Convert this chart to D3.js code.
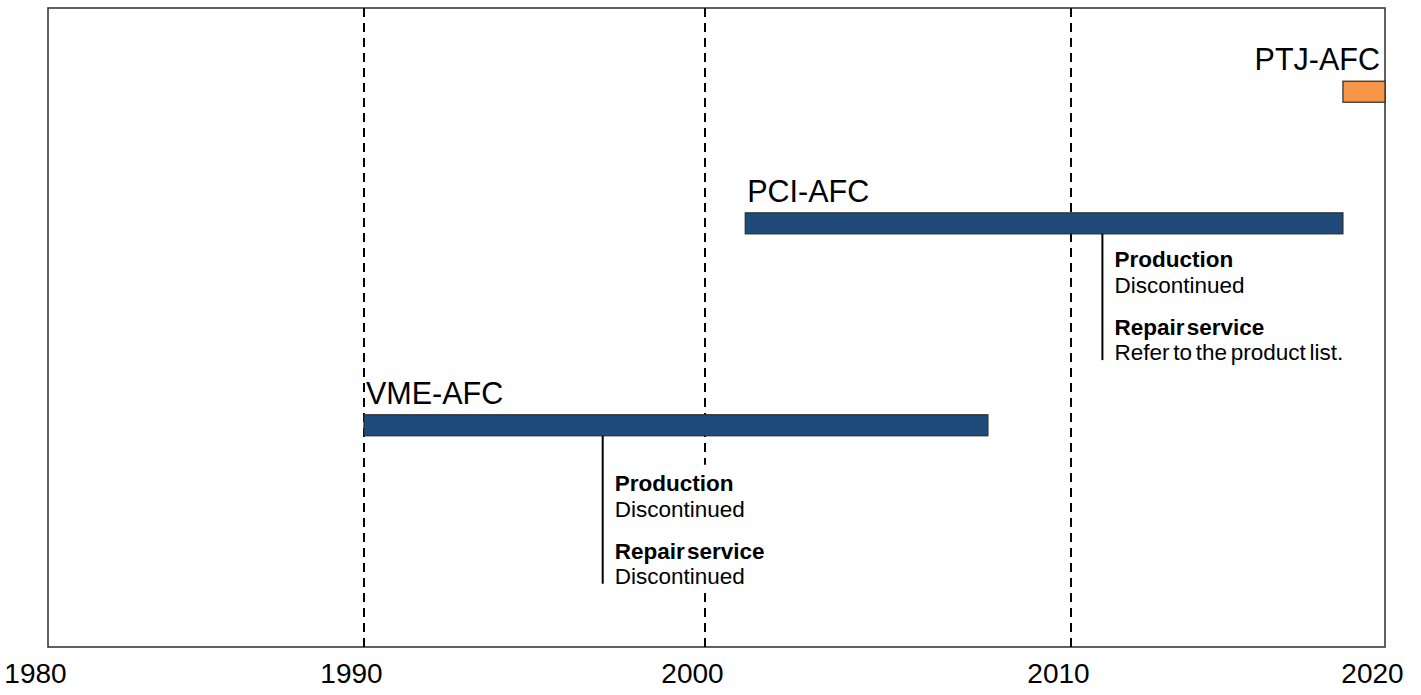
<!DOCTYPE html>
<html>
<head>
<meta charset="utf-8">
<script src="https://cdn.jsdelivr.net/npm/d3@7"></script>
<style>
  html, body { margin: 0; padding: 0; background: #fff; }
  svg { display: block; font-family: "Liberation Sans", Arial, sans-serif; }
</style>
</head>
<body>
<svg id="chart" width="1421" height="695"></svg>
<script>
// ---- data ----
const tickYears = [1980, 1990, 2000, 2010, 2020];
const gridYears = [1990, 2000, 2010];
const products = ["VME-AFC", "PCI-AFC", "PTJ-AFC"];
const startYears = [1990, 2001.1, 2018.66];
const endYears = [2007.73, 2018.66, 2020];
const lanes = [34.7, 66.3, 86.9];          // vertical lane (0-100)
const barColors = ["#1F4A7C", "#1F4A7C", "#F79646"];
const noteProducts = ["VME-AFC", "PCI-AFC"];
const noteYears = [1997, 2011];
const noteEnds = [9.9, 44.9];                // lane value where the note stem ends
const noteLines = [
  [["Production", true], ["Discontinued", false], ["Repair service", true], ["Discontinued", false]],
  [["Production", true], ["Discontinued", false], ["Repair service", true], ["Refer to the product list.", false]]
];

// ---- layout ----
const svg = d3.select("#chart");
const x = d3.scaleLinear().domain(tickYears).range([48, 364, 705, 1071, 1385]);
const y = d3.scaleLinear().domain([0, 100]).range([647, 8]);
const barH = 21;

// frame
svg.append("rect")
  .attr("x", x(1980)).attr("y", y(100))
  .attr("width", x(2020) - x(1980)).attr("height", y(0) - y(100))
  .attr("fill", "none").attr("stroke", "#3a3a3a").attr("stroke-width", 1.6);

// dashed gridlines
svg.selectAll("line.grid").data(gridYears).join("line")
  .attr("class", "grid")
  .attr("x1", d => x(d)).attr("x2", d => x(d))
  .attr("y1", y(100)).attr("y2", y(0))
  .attr("stroke", "#000").attr("stroke-width", 2)
  .attr("stroke-dasharray", "9,6");

// axis labels
const axis = d3.axisBottom(x).tickValues(tickYears).tickFormat(d3.format("d")).tickSize(0).tickPadding(0);
const gAxis = svg.append("g").attr("transform", `translate(0,${y(0)})`).call(axis);
gAxis.select(".domain").remove();
gAxis.selectAll("text")
  .attr("dy", null).attr("y", 36).attr("dx", -13)
  .attr("font-size", 28).attr("fill", "#000")
  .attr("font-family", "'Liberation Sans', Arial, sans-serif");

// bars
const bars = products.map((p, i) => ({ name: p, s: startYears[i], e: endYears[i], lane: lanes[i], color: barColors[i] }));
svg.selectAll("rect.bar").data(bars).join("rect")
  .attr("class", "bar")
  .attr("x", d => x(d.s)).attr("y", d => y(d.lane) - barH / 2)
  .attr("width", d => x(d.e) - x(d.s)).attr("height", barH)
  .attr("fill", d => d.color).attr("stroke", "#2b2b2b").attr("stroke-width", 1.2);

// bar labels
svg.selectAll("text.blabel").data(bars).join("text")
  .attr("class", "blabel")
  .attr("x", d => d.e >= 2020 ? x(d.e) - 5 : x(d.s) + 2)
  .attr("y", d => y(d.lane) - barH / 2 - 11)
  .attr("text-anchor", d => d.e >= 2020 ? "end" : "start")
  .attr("font-size", 30.5).attr("fill", "#000")
  .text(d => d.name);

// notes
noteProducts.forEach((p, i) => {
  const b = bars.find(d => d.name === p);
  const xs = x(noteYears[i]);
  const top = y(b.lane) + barH / 2;
  const end = y(noteEnds[i]);
  svg.append("line")
    .attr("x1", xs).attr("x2", xs).attr("y1", top).attr("y2", end)
    .attr("stroke", "#000").attr("stroke-width", 2);
  const g = svg.append("g");
  const bg = g.append("rect").attr("fill", "#fff");
  const offs = [-93, -67, -25, 0];
  noteLines[i].forEach((ln, j) => {
    g.append("text")
      .attr("x", xs + 12).attr("y", end + offs[j])
      .attr("font-size", 22.5)
      .attr("font-weight", ln[1] ? "bold" : "normal")
      .attr("word-spacing", ln[1] ? -4 : -2.5)
      .attr("fill", "#000")
      .text(ln[0]);
  });
  const bb = g.node().getBBox();
  bg.attr("x", bb.x - 2).attr("y", bb.y - 6).attr("width", bb.width + 6).attr("height", bb.height + 10);
});
</script>
</body>
</html>
